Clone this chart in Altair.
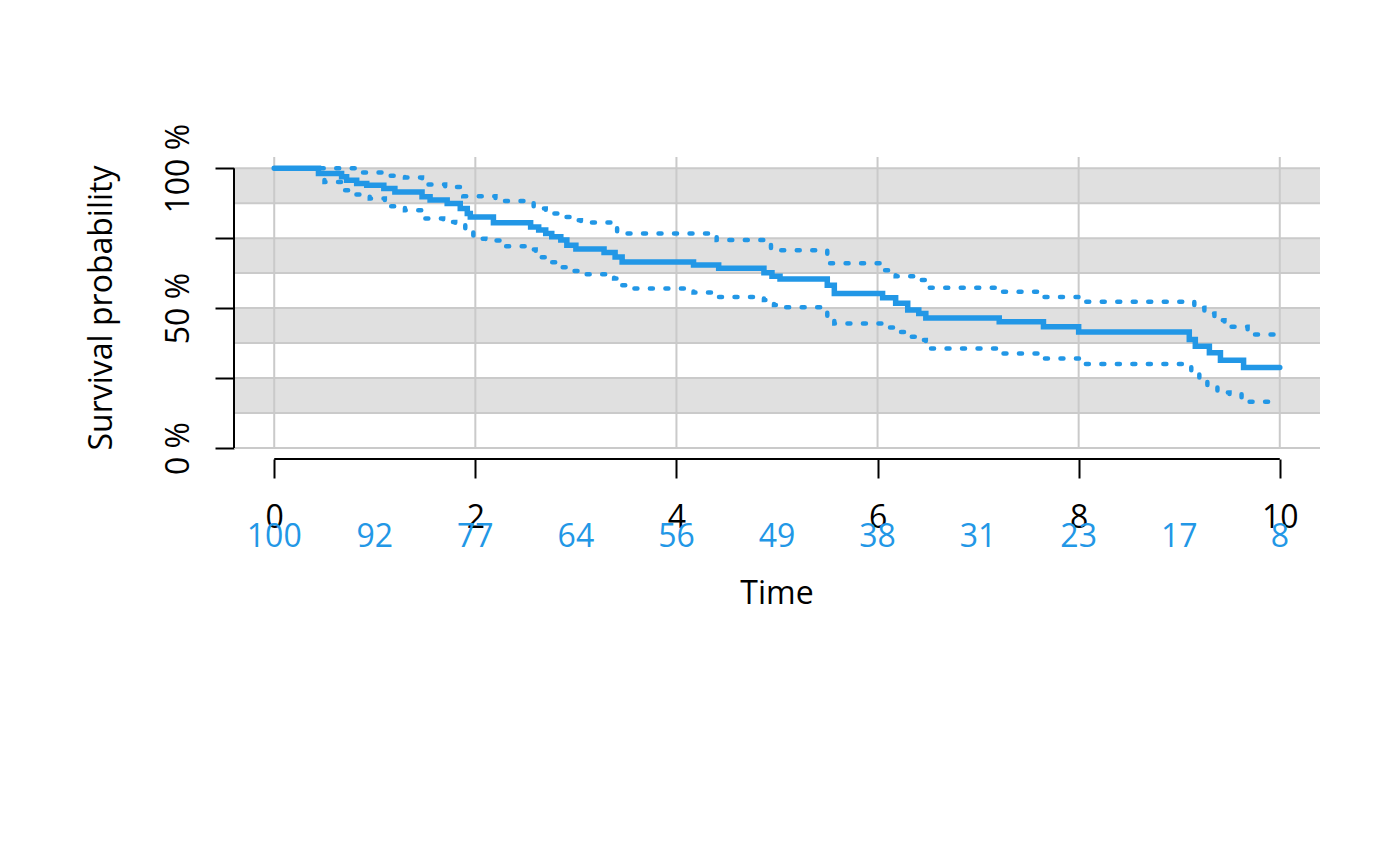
import altair as alt
import pandas as pd

BLUE = "#2297E6"
FONT = "Open Sans"
FS = 32

# Kaplan-Meier estimate (step after)
surv_t = [0, 0.44, 0.67, 0.72, 0.82, 0.92, 1.09, 1.20, 1.47, 1.55, 1.72, 1.85, 1.92, 1.95,
          2.18, 2.55, 2.63, 2.70, 2.76, 2.85, 2.91, 3.0, 3.28, 3.39, 3.46, 4.17, 4.42, 4.87,
          4.95, 5.03, 5.5, 5.57, 6.05, 6.18, 6.3, 6.41, 6.48, 7.21, 7.65, 8.0, 9.1, 9.16,
          9.3, 9.41, 9.64, 10]
surv_s = [100, 98.1, 96.9, 95.7, 94.5, 93.9, 92.7, 91.5, 89.8, 88.6, 87.4, 85.6, 83.8, 82.6,
          80.5, 79, 77.9, 76.7, 75.5, 74.3, 72.5, 71.1, 69.9, 68.3, 66.5, 65.4, 64.2, 62.6,
          61.4, 60.4, 58.2, 55.2, 53.7, 51.7, 49.3, 48.1, 46.5, 45.1, 43.3, 41.5, 38.8, 36.4,
          34.0, 31.4, 28.8, 28.8]

# Upper confidence limit
upper_t = [0, 0.85, 1.15, 1.3, 1.47, 1.7, 1.88, 2.2, 2.5, 2.58, 2.7, 2.82, 2.95, 3.05, 3.41,
           4.40, 4.94, 5.5, 6.05, 6.18, 6.39, 6.49, 7.21, 7.65, 8.04, 9.15, 9.25, 9.35, 9.45,
           9.68, 10]
upper_s = [100, 98.5, 97.3, 96.7, 94.2, 93.3, 90.0, 88.3, 87.7, 85.6, 83.8, 82.6, 81.4, 80.6,
           76.7, 74.3, 70.7, 66.0, 63.5, 61.4, 60.0, 57.3, 55.8, 54.0, 52.3, 50.1, 48.1, 45.7,
           43.3, 40.6, 40.6]

# Lower confidence limit
lower_t = [0, 0.44, 0.5, 0.67, 0.8, 0.95, 1.1, 1.3, 1.47, 1.68, 1.8, 1.9, 1.98, 2.1, 2.3, 2.5,
           2.6, 2.7, 2.8, 2.93, 3.02, 3.38, 3.46, 3.52, 4.17, 4.42, 4.87, 4.97, 5.03, 5.5, 5.57,
           6.05, 6.18, 6.3, 6.41, 6.48, 7.21, 7.65, 8.02, 9.12, 9.2, 9.28, 9.38, 9.5, 9.62, 10]
lower_s = [100, 97.5, 95.1, 92.1, 90.6, 89.2, 86.4, 85, 82, 80.8, 79.9, 77, 74.8, 74.2, 72.1,
           70.9, 68.2, 66.4, 64.6, 63.3, 62.1, 60.6, 58.2, 57, 55.6, 54, 52.9, 51.1, 50.3, 47.1,
           44.5, 43.1, 41.5, 39.8, 38.6, 35.6, 33.8, 32, 30, 27.5, 24.9, 21.9, 19.8, 19.3, 16.5,
           16.5]

# Number at risk table
risk_t = [0, 1, 2, 3, 4, 5, 6, 7, 8, 9, 10]
risk_n = [100, 92, 77, 64, 56, 49, 38, 31, 23, 17, 8]

x_ticks = [0, 2, 4, 6, 8, 10]
y_ticks = [0, 25, 50, 75, 100]
band_lo = [87.5, 62.5, 37.5, 12.5]
band_hi = [100, 75, 50, 25]
hline_vals = [0, 12.5, 25, 37.5, 50, 62.5, 75, 87.5, 100]

W, H = 1086, 291

xs = alt.Scale(domain=[-0.4, 10.4], nice=False, zero=False)
ys = alt.Scale(domain=[0, 104], nice=False, zero=False)

xax = alt.Axis(values=x_ticks, tickSize=19, tickWidth=2, tickColor="black", domain=False,
               grid=False, labelFontSize=FS, labelFont=FONT, labelColor="black",
               labelPadding=49, labelBaseline="alphabetic", labelAlign="center", offset=11,
               title=None, labelFlush=False, labelOverlap=False)
yax = alt.Axis(values=y_ticks, tickSize=19, tickWidth=2, tickColor="black", domain=False,
               grid=False, labelFontSize=FS, labelFont=FONT, labelColor="black",
               labelAngle=270, labelAlign="center", labelBaseline="alphabetic",
               labelPadding=27, title=None, labelFlush=False, labelOverlap=False,
               labelExpr="datum.value % 50 == 0 ? datum.value + ' %' : ''")

X = lambda: alt.X("t:Q", scale=xs, axis=xax)
Y = lambda: alt.Y("s:Q", scale=ys, axis=yax)

bands_df = pd.DataFrame({"s": band_lo, "hi": band_hi})
bands = alt.Chart(bands_df).mark_rect(color="#E0E0E0").encode(
    x=alt.value(0), x2=alt.value(W), y=Y(), y2="hi:Q")

hlines = alt.Chart(pd.DataFrame({"s": hline_vals})).mark_rule(
    color="#CACACA", strokeWidth=2).encode(x=alt.value(0), x2=alt.value(W), y=Y())

vlines = alt.Chart(pd.DataFrame({"t": x_ticks})).mark_rule(
    color="#CACACA", strokeWidth=2).encode(x=X(), y=alt.value(0), y2=alt.value(H))

def ci(ts, ss):
    return alt.Chart(pd.DataFrame({"t": ts, "s": ss})).mark_line(
        interpolate="step-after", color=BLUE, strokeWidth=4.5, strokeDash=[3, 12.5],
        strokeCap="round").encode(x=X(), y=Y())

upper = ci(upper_t, upper_s)
lower = ci(lower_t, lower_s)

main = alt.Chart(pd.DataFrame({"t": surv_t, "s": surv_s})).mark_line(
    interpolate="step-after", color=BLUE, strokeWidth=5.5, strokeCap="round",
    strokeJoin="miter").encode(x=X(), y=Y())

# axis lines spanning only the tick range
yline = alt.Chart(pd.DataFrame({"s": [0], "s2": [100]})).mark_rule(
    color="black", strokeWidth=2).encode(x=alt.value(0), y=Y(), y2="s2:Q")
xline = alt.Chart(pd.DataFrame({"t": [0], "t2": [10]})).mark_rule(
    color="black", strokeWidth=2).encode(x=X(), x2="t2:Q", y=alt.value(H + 11))

risk = alt.Chart(pd.DataFrame({"t": risk_t, "n": risk_n})).mark_text(
    color=BLUE, fontSize=FS, font=FONT, baseline="alphabetic", align="center").encode(
    x=X(), y=alt.value(390), text="n:Q")

xtitle = alt.Chart(pd.DataFrame({"label": ["Time"]})).mark_text(
    color="black", fontSize=FS, font=FONT, baseline="alphabetic", align="center").encode(
    x=alt.value(W / 2), y=alt.value(447), text="label:N")

ytitle = alt.Chart(pd.DataFrame({"label": ["Survival probability"]})).mark_text(
    color="black", fontSize=FS, font=FONT, baseline="alphabetic", align="center",
    angle=270).encode(x=alt.value(-122), y=alt.value(151), text="label:N")

chart = alt.layer(bands, hlines, vlines, upper, lower, main, yline, xline, risk,
                  xtitle, ytitle).properties(
    width=W, height=H,
    autosize=alt.AutoSizeParams(type="none"),
    padding={"left": 226, "top": 149, "right": 60, "bottom": 380},
    background="white",
).configure_view(stroke=None)

chart.save("out.html", embed_options={"renderer": "svg", "actions": False})
